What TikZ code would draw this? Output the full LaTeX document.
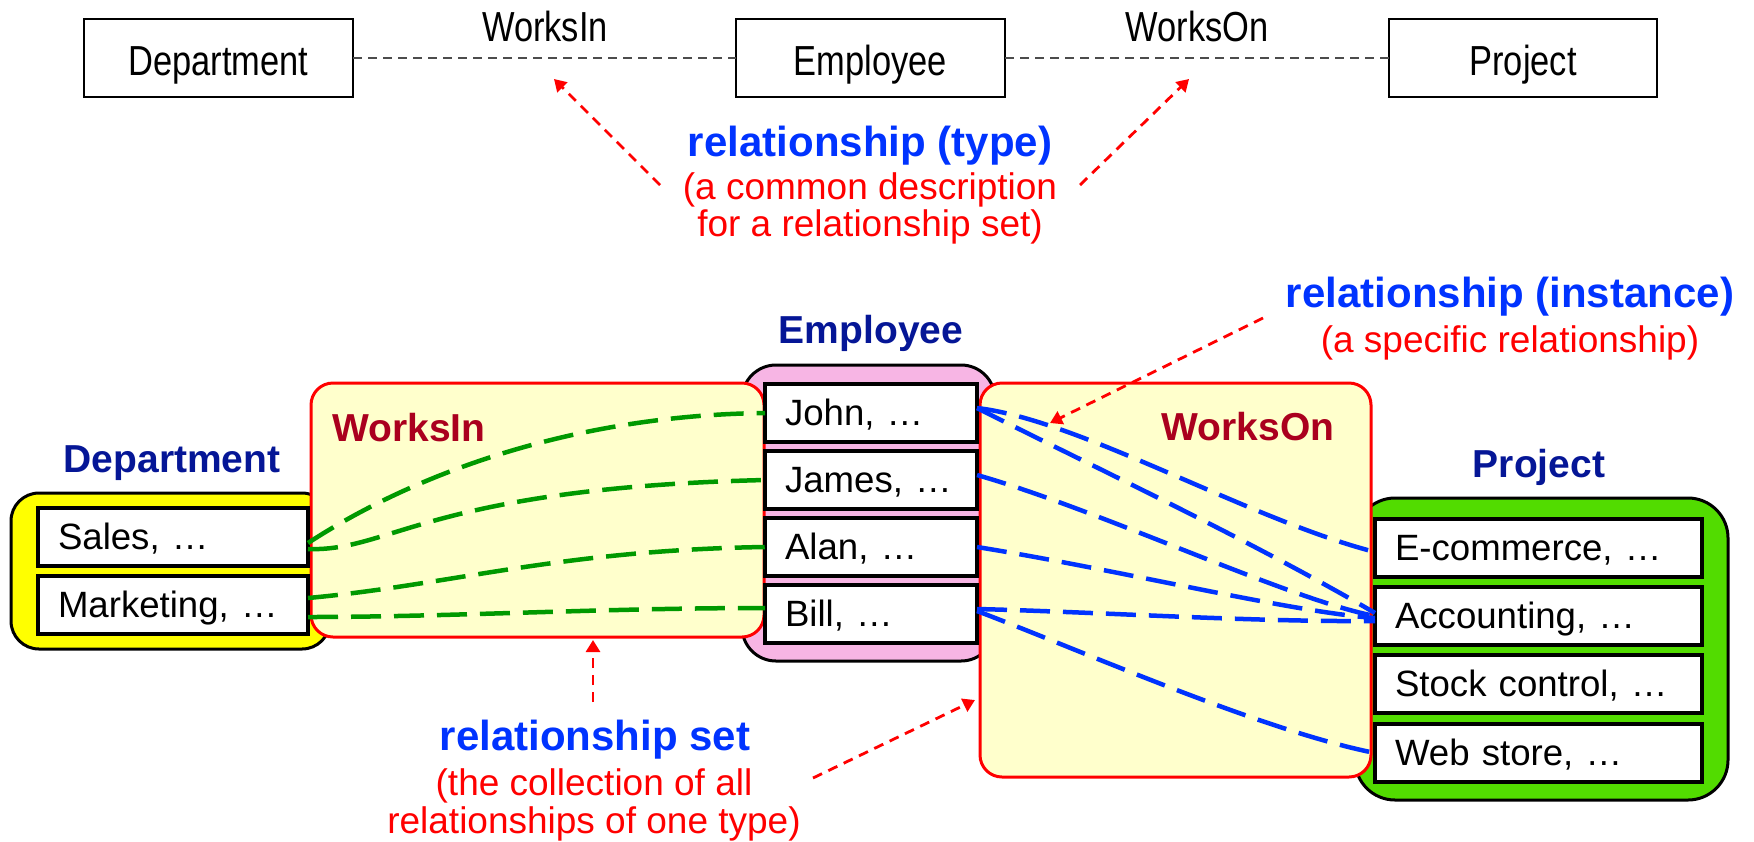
\documentclass[tikz,border=0pt]{standalone}
\usepackage{fontspec}
\setmainfont{Liberation Sans}
\newfontfamily\narrowsans{Liberation Sans}[FakeStretch=0.82]
\usetikzlibrary{arrows.meta,calc}

\definecolor{deptyellow}{RGB}{255,255,0}
\definecolor{emppink}{RGB}{247,181,228}
\definecolor{projgreen}{RGB}{82,220,0}
\definecolor{relfill}{RGB}{255,255,204}
\definecolor{navy}{RGB}{5,22,150}
\definecolor{reldarkred}{RGB}{170,0,30}
\definecolor{headblue}{RGB}{0,51,255}
\definecolor{linkgreen}{RGB}{0,153,0}
\definecolor{linkblue}{RGB}{0,51,255}

\begin{document}
\begin{tikzpicture}[x=0.5pt,y=-0.5pt,
  dims/.style 2 args={minimum width=#1*0.5pt,minimum height=#2*0.5pt},
  typebox/.style={draw=black,line width=1pt,fill=white,inner sep=0pt,outer sep=0pt,
    font=\narrowsans\fontsize{21}{25}\selectfont,text height=17pt,text depth=0pt},
  typelabel/.style={font=\narrowsans\fontsize{21}{25}\selectfont,inner sep=0pt},
  typelink/.style={draw=black!70,line width=1pt,dash pattern=on 4.5pt off 3pt},
  container/.style={draw=black,line width=1.5pt,inner sep=0pt,outer sep=0pt},
  relbox/.style={draw=red,line width=1.5pt,fill=relfill,rounded corners=11pt,inner sep=0pt,outer sep=0pt},
  itembox/.style={draw=black,line width=2pt,fill=white,inner xsep=10pt,inner ysep=0pt,outer sep=0pt,
    align=left,font=\fontsize{18.3}{22}\selectfont,text height=13pt,text depth=1pt},
  deptitem/.style={itembox,dims={270}{58},text width=115pt},
  empitem/.style={itembox,dims={212}{58},text width=86pt},
  projitem/.style={itembox,dims={327}{58},text width=143.5pt},
  setlabel/.style={font=\bfseries\fontsize{19.5}{23}\selectfont,text=navy,inner sep=0pt},
  rellabel/.style={font=\bfseries\fontsize{19.5}{23}\selectfont,text=reldarkred,inner sep=0pt},
  headnote/.style={font=\bfseries\fontsize{21}{25}\selectfont,text=headblue,inner sep=0pt},
  subnote/.style={font=\fontsize{18.5}{22}\selectfont,text=red,inner sep=0pt},
  notearrow/.style={draw=red,line width=1.4pt,dash pattern=on 5pt off 3.5pt,
    -{Triangle[length=6pt,width=7pt]}},
  greenlink/.style={draw=linkgreen,line width=2.25pt,dash pattern=on 15pt off 6.5pt},
  bluelink/.style={draw=linkblue,line width=2.25pt,dash pattern=on 15pt off 6.5pt},
]
\useasboundingbox (0,0) rectangle (1754,841);

% ---------- entity types and relationship types ----------
\node[typebox,dims={269}{78}] (deptT) at (218.5,58) {Department};
\node[typebox,dims={269}{78}] (empT) at (870.5,58) {Employee};
\node[typebox,dims={268}{78}] (projT) at (1523,58) {Project};
\draw[typelink] (deptT) -- (empT);
\draw[typelink] (empT) -- (projT);
\node[typelabel,anchor=base] (worksInT) at (545,41) {WorksIn};
\node[typelabel,anchor=base] (worksOnT) at (1197,41) {WorksOn};

\node[headnote,anchor=base] (typeHead) at (870,156) {relationship (type)};
\node[subnote,anchor=base] (typeSubA) at (870,199) {(a common description};
\node[subnote,anchor=base] (typeSubB) at (870,236) {for a relationship set)};
\coordinate (typeTailL) at (660,185);
\coordinate (typeTipL) at (554,79);
\coordinate (typeTailR) at (1080,185);
\coordinate (typeTipR) at (1189,79);
\draw[notearrow] (typeTailL) -- (typeTipL);
\draw[notearrow] (typeTailR) -- (typeTipR);

% ---------- entity sets ----------
\node[container,fill=deptyellow,rounded corners=14pt,dims={319}{156}] (deptC) at (170.5,571) {};
\node[container,fill=emppink,rounded corners=17pt,dims={253}{296}] (empC) at (868.5,513) {};
\node[container,fill=projgreen,rounded corners=20pt,dims={373}{302}] (projC) at (1541.5,649) {};

% ---------- relationship sets ----------
\node[relbox,dims={453}{254}] (worksInBox) at (537.5,510) {};
\node[relbox,dims={391}{394}] (worksOnBox) at (1175.5,580) {};

% ---------- entities ----------
\node[deptitem] (sales) at (173,537) {Sales, …};
\node[deptitem] (marketing) at (173,605) {Marketing, …};

\node[empitem] (john) at (871,413) {John, …};
\node[empitem] (james) at (871,480) {James, …};
\node[empitem] (alan) at (871,547) {Alan, …};
\node[empitem] (bill) at (871,614) {Bill, …};

\node[projitem] (ecom) at (1538.5,548) {E-commerce, …};
\node[projitem] (accounting) at (1538.5,616) {Accounting, …};
\node[projitem] (stock) at (1538.5,684) {Stock control, …};
\node[projitem] (webstore) at (1538.5,753) {Web store, …};

% ---------- set labels ----------
\node[setlabel,anchor=base] (deptL) at (172,472) {Department};
\node[setlabel,anchor=base] (empL) at (871,343) {Employee};
\node[setlabel,anchor=base] (projL) at (1539,477) {Project};
\node[rellabel,anchor=base west] (worksInL) at (332,441) {WorksIn};
\node[rellabel,anchor=base] (worksOnL) at (1248,440) {WorksOn};

% ---------- WorksIn relationships ----------
\draw[greenlink] ($(sales.east)+(0,6)$) .. controls (420,470) and (580,415) .. (john.west);
\draw[greenlink] ($(sales.east)+(0,12)$) .. controls (390,552) and (430,488) .. (james.west);
\draw[greenlink] ($(marketing.east)+(0,-7)$) .. controls (450,585) and (560,550) .. (alan.west);
\draw[greenlink] ($(marketing.east)+(0,12)$) .. controls (450,617) and (600,608) .. ($(bill.west)+(0,-6)$);

% ---------- WorksOn relationships ----------
\draw[bluelink] ($(john.east)+(0,-5)$) .. controls (1080,420) and (1250,520) .. ($(ecom.west)+(0,4)$);
\draw[bluelink] ($(john.east)+(0,-5)$) .. controls (1100,470) and (1250,540) .. ($(accounting.west)+(0,-3)$);
\draw[bluelink] ($(james.east)+(0,-5)$) .. controls (1100,510) and (1290,600) .. (accounting.west);
\draw[bluelink] (alan.east) .. controls (1120,570) and (1290,612) .. ($(accounting.west)+(0,2)$);
\draw[bluelink] ($(bill.east)+(0,-5)$) .. controls (1100,612) and (1250,622) .. ($(accounting.west)+(0,5)$);
\draw[bluelink] ($(bill.east)+(0,-3)$) .. controls (1080,650) and (1260,730) .. (webstore.west);

% ---------- notes on instances and sets ----------
\node[headnote,anchor=base] (instHead) at (1510,307) {relationship (instance)};
\node[subnote,anchor=base] (instSub) at (1510,352) {(a specific relationship)};
\coordinate (instTail) at (1263,318);
\coordinate (instTip) at (1050,423);
\draw[notearrow] (instTail) -- (instTip);

\node[headnote,anchor=base] (setHead) at (595,750) {relationship set};
\node[subnote,anchor=base] (setSubA) at (594,795) {(the collection of all};
\node[subnote,anchor=base] (setSubB) at (594,833) {relationships of one type)};
\coordinate (setTailA) at (593,702);
\coordinate (setTipA) at (593,640);
\coordinate (setTailB) at (813,778);
\coordinate (setTipB) at (975,700);
\draw[notearrow] (setTailA) -- (setTipA);
\draw[notearrow] (setTailB) -- (setTipB);
\end{tikzpicture}
\end{document}
